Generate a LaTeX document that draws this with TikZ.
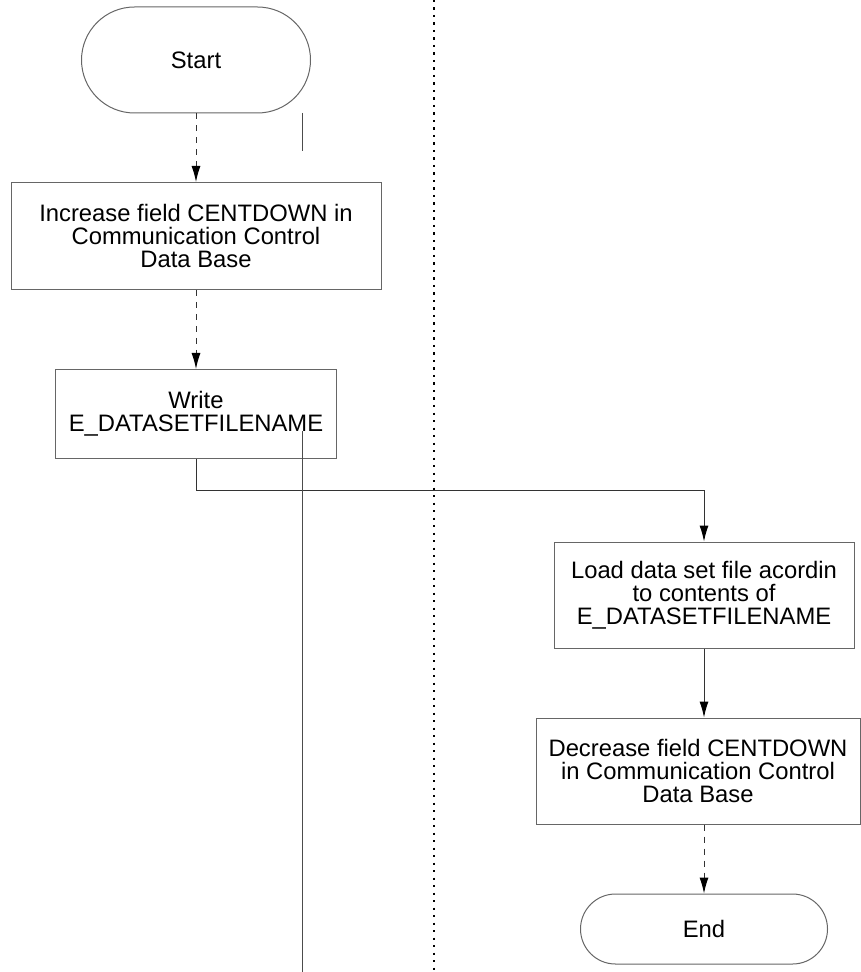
\documentclass[tikz,border=0pt]{standalone}
\usepackage{fontspec}
\setmainfont{Liberation Sans}
\usetikzlibrary{shapes.misc, arrows.meta}

\begin{document}
\begin{tikzpicture}[x=0.5pt, y=-0.5pt, line width=0.5pt, draw=black!75,
  block/.style={rectangle, draw=black!60, align=center, inner sep=0pt},
  terminal/.style={rounded rectangle, draw=black!60, inner sep=0pt},
  flow/.style={-{Latex[length=8pt, width=4.5pt, color=black]}, draw=black!80},
  faint/.style={flow, dashed}]
\fontsize{11.9}{11.6}\selectfont
  \useasboundingbox (0,0) rectangle (860,972);

  \node[terminal, minimum width=114.5pt, minimum height=53pt] (start) at (196,60) {Start};
  \node[block, minimum width=185pt, minimum height=53.5pt] (increase) at (196,236)
    {Increase field CENTDOWN in\\Communication Control\\Data Base};
  \node[block, minimum width=140.5pt, minimum height=44.5pt] (write) at (196,414)
    {Write\\E\_DATASETFILENAME};
  \node[block, minimum width=150pt, minimum height=53pt] (load) at (704,595)
    {Load data set file acordin\\to contents of\\E\_DATASETFILENAME};
  \node[block, minimum width=162pt, minimum height=53pt] (decrease) at (698,771)
    {Decrease field CENTDOWN\\in Communication Control\\Data Base};
  \node[terminal, minimum width=123.5pt, minimum height=35pt] (end) at (704,929) {End};

  \coordinate (tickTop) at (302,113);
  \coordinate (tickBot) at (302,151);
  \coordinate (laneTop) at (302,431);
  \coordinate (laneBot) at (302,972);
  \coordinate (divTop) at (434,0);
  \coordinate (divBot) at (434,972);

  \draw[faint] (start.south) -- (increase.north);
  \draw[faint] (increase.south) -- (write.north);
  \draw[flow] (write.south) -- ++(0,31) -| (load.north);
  \draw[flow] (load.south) -- (load.south |- decrease.north);
  \draw[faint] (decrease.south -| end.north) -- (end.north);

  \draw[black!70] (tickTop) -- (tickBot);
  \draw[black!70] (laneTop) -- (laneBot);
  \draw[black, line width=1.4pt, dash pattern=on 1.2pt off 2.55pt] (divTop) -- (divBot);
\end{tikzpicture}
\end{document}
